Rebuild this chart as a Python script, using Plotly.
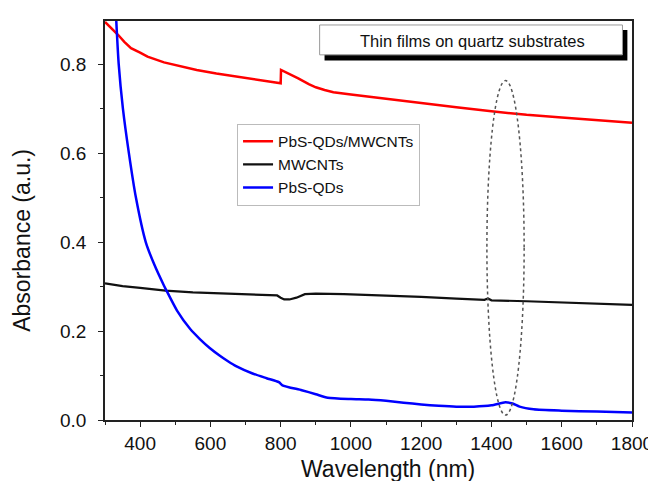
import plotly.graph_objects as go

# ---- data ----
red_wl = [300, 320, 337, 355, 374, 400, 421, 468, 500, 561, 617, 700, 750, 800, 801, 820, 850, 880, 900,
          925, 950, 1000, 1100, 1200, 1300, 1400, 1500, 1600, 1700, 1800]
red_abs = [0.895, 0.880, 0.866, 0.850, 0.836, 0.826, 0.817, 0.804, 0.798, 0.787, 0.779, 0.769, 0.763, 0.757,
           0.787, 0.780, 0.768, 0.755, 0.748, 0.742, 0.737, 0.732, 0.722, 0.713, 0.703, 0.694, 0.686, 0.680,
           0.674, 0.668]

black_wl = [300, 350, 400, 472, 550, 636, 700, 757, 790, 800, 810, 825, 845, 869, 900, 980, 1100, 1200,
            1300, 1380, 1390, 1400, 1500, 1600, 1700, 1800]
black_abs = [0.307, 0.301, 0.297, 0.291, 0.287, 0.284, 0.282, 0.281, 0.280, 0.275, 0.271, 0.271, 0.275,
             0.283, 0.284, 0.283, 0.280, 0.277, 0.273, 0.270, 0.273, 0.269, 0.267, 0.264, 0.262, 0.259]

blue_wl = [330, 339, 351, 368, 388, 416, 440, 468, 475, 505, 542, 570, 598, 626, 650, 673, 720, 760, 795,
           805, 860, 900, 934, 1000, 1050, 1100, 1150, 1200, 1250, 1300, 1350, 1400, 1440, 1460, 1480,
           1520, 1600, 1700, 1800]
blue_abs = [0.93, 0.80, 0.70, 0.60, 0.50, 0.40, 0.350, 0.302, 0.291, 0.246, 0.205, 0.182, 0.162, 0.145,
            0.132, 0.121, 0.1045, 0.094, 0.085, 0.078, 0.067, 0.058, 0.050, 0.047, 0.046, 0.043, 0.039,
            0.035, 0.032, 0.030, 0.030, 0.033, 0.040, 0.037, 0.030, 0.024, 0.021, 0.019, 0.017]

series_names = ["PbS-QDs/MWCNTs", "MWCNTs", "PbS-QDs"]
x_ticks = [400, 600, 800, 1000, 1200, 1400, 1600, 1800]
y_ticks = [0.0, 0.2, 0.4, 0.6, 0.8]
y_tick_text = ["0.0", "0.2", "0.4", "0.6", "0.8"]

FONT = "Liberation Sans, Arial, sans-serif"
W, H = 656, 481
L, R, T, B = 96.7, 23.3, 11, 69.3
PW, PH = W - L - R, H - T - B


def px(x):
    return (x - L) / PW


def py(y):
    return (H - B - y) / PH


fig = go.Figure()
fig.add_trace(go.Scatter(x=red_wl, y=red_abs, mode="lines", name=series_names[0],
                         line=dict(color="#ff0000", width=2.5)))
fig.add_trace(go.Scatter(x=black_wl, y=black_abs, mode="lines", name=series_names[1],
                         line=dict(color="#111111", width=2.2)))
fig.add_trace(go.Scatter(x=blue_wl, y=blue_abs, mode="lines", name=series_names[2],
                         line=dict(color="#0000ff", width=2.5, shape="spline", smoothing=0.6)))

axis_common = dict(showline=True, linecolor="#222222", linewidth=1.5, mirror=True,
                   ticks="outside", ticklen=5, tickwidth=1.3, tickcolor="#222222",
                   showgrid=False, zeroline=False,
                   tickfont=dict(family=FONT, size=19, color="#111111"))

fig.update_xaxes(range=[300, 1800], tickvals=x_ticks, ticktext=[str(v) for v in x_ticks],
                 minor=dict(ticks="outside", ticklen=3, tickwidth=1.2, tickcolor="#222222", dtick=100,
                            tick0=300, showgrid=False),
                 **axis_common)
fig.update_yaxes(range=[0, 0.897], tickvals=y_ticks, ticktext=y_tick_text, ticklabelstandoff=8,
                 minor=dict(ticks="outside", ticklen=3, tickwidth=1.2, tickcolor="#222222", dtick=0.1,
                            tick0=0, showgrid=False),
                 **axis_common)

shapes = [
    # dotted ellipse
    dict(type="circle", xref="x", yref="y", x0=1387, x1=1493, y0=0.011, y1=0.763,
         line=dict(color="#555555", width=1.5, dash="dot")),
    # shadow of title box
    dict(type="rect", xref="paper", yref="paper", x0=px(320), x1=px(628), y0=py(50.7), y1=py(20),
         fillcolor="#000000", line=dict(width=0)),
    # title box
    dict(type="rect", xref="paper", yref="paper", x0=px(315), x1=px(623), y0=py(45), y1=py(15),
         fillcolor="#ffffff", line=dict(color="#999999", width=1)),
]

annotations = [
    dict(text="Thin films on quartz substrates", xref="paper", yref="paper", x=px(470), y=py(31),
         xanchor="center", yanchor="middle", showarrow=False,
         font=dict(family=FONT, size=16.5, color="#111111")),
    dict(text="Wavelength (nm)", xref="paper", yref="paper", x=px(385), y=py(461),
         xanchor="center", yanchor="middle", showarrow=False,
         font=dict(family=FONT, size=23, color="#111111")),
    dict(text="Absorbance (a.u.)", xref="paper", yref="paper", x=px(12), y=py(231),
         xanchor="center", yanchor="middle", showarrow=False, textangle=-90,
         font=dict(family=FONT, size=23, color="#111111")),
]

fig.update_layout(
    width=W, height=H,
    margin=dict(l=L, r=R, t=T, b=B),
    paper_bgcolor="white", plot_bgcolor="white",
    shapes=shapes, annotations=annotations,
    legend=dict(x=px(231), y=py(114), xanchor="left", yanchor="top",
                bgcolor="white", bordercolor="#bbbbbb", borderwidth=1,
                font=dict(family=FONT, size=15.5, color="#111111"),
                tracegroupgap=0, itemwidth=30),
    showlegend=True,
)

fig.write_html("out.html")
